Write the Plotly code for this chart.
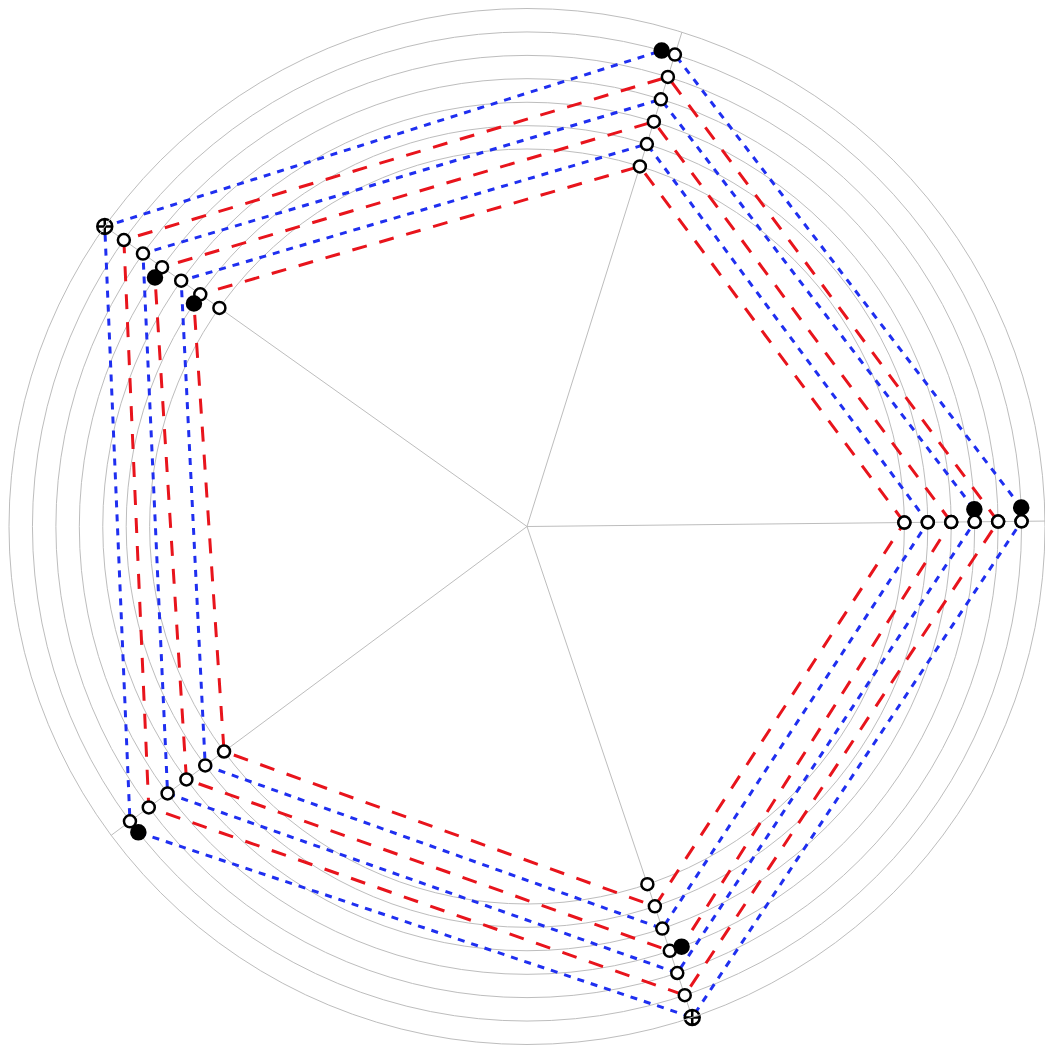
import plotly.graph_objects as go

# spoke angles (degrees) : right, top, upper-left, lower-left, bottom
spokes = [0, 72, 144, 216, 288]
offset = 1.6  # small angular offset of the extra (filled) points

# radial value of each trace at the five spokes
r_A = [6, 6, 7, 6, 7]
r_B = [5, 5, 6, 5, 6]
r_C = [4, 4, 5, 4, 5]
r_D = [3, 3, 4, 3, 4]
r_E = [2, 2, 3, 2, 3]
r_F = [1, 1, 2, 1, 2]
r_G = [None, None, 1, None, 1]

# spokes (index) after which an extra point is inserted
extra_A = [0, 1, 3]
extra_B = []
extra_C = [0]
extra_D = [2, 4]
extra_E = []
extra_F = [2]
extra_G = []

# spokes where the point is drawn as a crossed circle
cross_A = [2, 4]

traces = [
    ("A", r_A, extra_A, cross_A, "blue"),
    ("B", r_B, extra_B, [], "red"),
    ("C", r_C, extra_C, [], "blue"),
    ("D", r_D, extra_D, [], "red"),
    ("E", r_E, extra_E, [], "blue"),
    ("F", r_F, extra_F, [], "red"),
    ("G", r_G, extra_G, [], "blue"),
]

styles = {
    "red": dict(color="#e8141c", dash="15px,13px", width=3),
    "blue": dict(color="#1f2ff0", dash="7px,7px", width=3),
}

fig = go.Figure()
for name, rv, extra, cross, col in traces:
    th, rr, kinds = [], [], []
    for i, (t, r) in enumerate(zip(spokes, rv)):
        th.append(t)
        rr.append(r)
        kinds.append("cross" if i in cross else "open")
        if i in extra:
            th.append(t + offset)
            rr.append(r)
            kinds.append("filled")
    # close the loop
    th.append(spokes[0] + 360)
    rr.append(rv[0])
    kinds.append("open")
    sym = ["circle-cross" if k == "cross" else "circle" for k in kinds]
    fill = ["black" if k == "filled" else "white" for k in kinds]
    size = [15 if k == "cross" else (14 if k == "filled" else 12) for k in kinds]
    fig.add_trace(go.Scatterpolar(
        r=rr, theta=th, mode="lines+markers", name=name,
        line=styles[col], connectgaps=False,
        marker=dict(symbol=sym, color=fill, size=size, opacity=1,
                    line=dict(color="black", width=2.5)),
    ))

fig.update_layout(
    template="none",
    showlegend=False,
    paper_bgcolor="white",
    margin=dict(l=9, r=0, t=7, b=1),
    polar=dict(
        bgcolor="white",
        radialaxis=dict(range=[-15.1, 7], tickmode="array",
                        tickvals=[1, 2, 3, 4, 5, 6, 7],
                        showticklabels=False, ticks="", showline=False,
                        gridcolor="#bdbdbd", gridwidth=1),
        angularaxis=dict(rotation=0.6, direction="counterclockwise",
                         tickmode="array", tickvals=spokes,
                         showticklabels=False, ticks="",
                         showline=True, linecolor="#bdbdbd", linewidth=1,
                         gridcolor="#bdbdbd", gridwidth=1),
    ),
)

post = ("document.body.style.margin='0px';"
        "document.body.style.overflow='hidden';"
        "Plotly.Plots.resize(document.getElementById('{plot_id}'));")
fig.write_html("out.html", post_script=post,
               config={"displayModeBar": False})
